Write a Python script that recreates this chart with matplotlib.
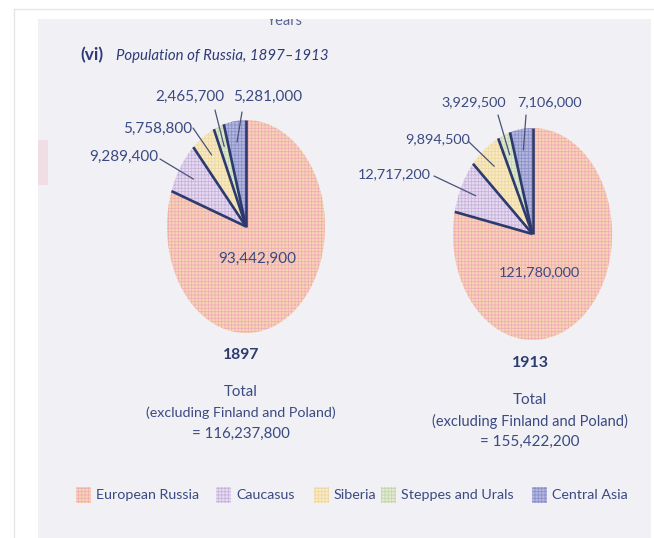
import matplotlib.pyplot as plt
from matplotlib.patches import Rectangle, ConnectionPatch
import numpy as np

regions = ['European Russia', 'Caucasus', 'Siberia', 'Steppes and Urals', 'Central Asia']
pop_1897 = [93442900, 9289400, 5758800, 2465700, 5281000]
pop_1913 = [121780000, 12717200, 9894500, 3929500, 7106000]
total_1897 = '116,237,800'
total_1913 = '155,422,200'

base_colors = ['#f8d6b2', '#e6dcef', '#f8ebc8', '#e3ebd3', '#b4b8df']
grid_colors = ['#efadb8', '#c8b2dc', '#efd7a0', '#c5d6ae', '#8b90c9']
navy = '#2c3a6e'
txt = '#3a4a82'

plt.rcParams['font.family'] = ['Lato', 'DejaVu Sans']
plt.rcParams['hatch.linewidth'] = 0.6

W, H = 654, 538
fig = plt.figure(figsize=(W / 100, H / 100), dpi=100)
fig.patch.set_facecolor('white')


def box(x0, y0, x1, y1):
    # pixel box (top-left origin) -> figure fraction
    return [x0 / W, 1 - y1 / H, (x1 - x0) / W, (y1 - y0) / H]


# page background
bg = fig.add_axes([0, 0, 1, 1], zorder=0)
bg.set_xlim(0, W)
bg.set_ylim(H, 0)
bg.axis('off')
bg.add_patch(Rectangle((38, 19), 613, H - 19, color='#f1f0f5', lw=0, zorder=0))
bg.add_patch(Rectangle((38, 140), 10, 45, color='#f1dde4', lw=0, zorder=1))
bg.text(285, 21, 'Years', fontsize=10.5, color='#5a6690', ha='center', va='center', zorder=1)
bg.add_patch(Rectangle((0, 0), W, 19, color='white', lw=0, zorder=2))
bg.plot([14, 14], [9, H], color='#e6e6e8', lw=1, zorder=3)
bg.plot([14, W], [9, 9], color='#e6e6e8', lw=1, zorder=3)


def draw_pie(rect, values):
    ax = fig.add_axes(rect, zorder=1)
    total = sum(values)
    # counter-clockwise from 12 o'clock, European Russia drawn last
    order = values[1:][::-1] + [values[0]]
    cols = base_colors[1:][::-1] + [base_colors[0]]
    gcols = grid_colors[1:][::-1] + [grid_colors[0]]
    wedges, _ = ax.pie(order, colors=cols, startangle=90, counterclock=True, radius=1)
    for w, gc in zip(wedges, gcols):
        w.set_hatch('+++++')
        w.set_edgecolor(gc)
        w.set_linewidth(0)
    ax.set_aspect('auto')
    ax.set_xlim(-1, 1)
    ax.set_ylim(-1, 1)
    ax.axis('off')
    cum = np.concatenate([[0], np.cumsum(order)]) / total
    for c in cum[:-1]:
        a = np.deg2rad(90 + 360 * c)
        ax.plot([0, np.cos(a)], [0, np.sin(a)], color=navy, lw=1.9,
                solid_capstyle='butt', zorder=5)
    # mid angles for the small slices, in original region order
    mids = {}
    for i, name_idx in enumerate([4, 3, 2, 1]):
        m = (cum[i] + cum[i + 1]) / 2
        a = np.deg2rad(90 + 360 * m)
        mids[name_idx] = (0.8 * np.cos(a), 0.8 * np.sin(a))
    return ax, mids


ax1, mids1 = draw_pie(box(167, 120, 325, 333), pop_1897)
ax2, mids2 = draw_pie(box(453, 128, 612, 340), pop_1913)

ov = fig.add_axes([0, 0, 1, 1], zorder=3)
ov.set_xlim(0, W)
ov.set_ylim(H, 0)
ov.axis('off')
ov.patch.set_alpha(0)


def label(ax, mids, idx, value, tx, ty, lx, ly, ha, size):
    ov.text(tx, ty, f'{value:,}', ha=ha, va='center', fontsize=size, color=txt)
    con = ConnectionPatch(xyA=(lx, ly), coordsA=ov.transData, xyB=mids[idx],
                          coordsB=ax.transData, color='#4a5278', lw=0.9)
    fig.add_artist(con)
    con.set_zorder(4)


# 1897 labels
label(ax1, mids1, 1, pop_1897[1], 158, 157, 160, 159, 'right', 11)
label(ax1, mids1, 2, pop_1897[2], 192, 129, 193, 128, 'right', 11)
label(ax1, mids1, 3, pop_1897[3], 224, 97, 215, 110, 'right', 11)
label(ax1, mids1, 4, pop_1897[4], 233, 97, 242, 112, 'left', 11)
ov.text(257, 259, f'{pop_1897[0]:,}', ha='center', va='center', fontsize=11, color=txt)

# 1913 labels
label(ax2, mids2, 1, pop_1913[1], 431, 174, 434, 176, 'right', 10.4)
label(ax2, mids2, 2, pop_1913[2], 470, 139, 468, 141, 'right', 10.4)
label(ax2, mids2, 3, pop_1913[3], 506, 102, 498, 115, 'right', 10.4)
label(ax2, mids2, 4, pop_1913[4], 517, 102, 526, 115, 'left', 10.4)
ov.text(539, 272, f'{pop_1913[0]:,}', ha='center', va='center', fontsize=10.4, color=txt)

# title
ov.text(80, 55, '(vi)', fontsize=12.5, fontweight='bold', color='#2e3b78', va='center')
ov.text(116, 56, 'Population of Russia, 1897\u20131913', fontsize=10.8, style='italic',
        color='#2e3b78', va='center')

# totals
for cx, ys, yr, tot, fs in [(241, [355, 392, 413, 434], '1897', total_1897, 10.3),
                            (530, [363, 400, 421, 442], '1913', total_1913, 10.5)]:
    ov.text(cx, ys[0], yr, ha='center', va='center', fontsize=fs + 1,
            fontweight='bold', color='#2e3b6e')
    ov.text(cx, ys[1], 'Total', ha='center', va='center', fontsize=fs + 0.5, color=txt)
    ov.text(cx, ys[2], '(excluding Finland and Poland)', ha='center', va='center',
            fontsize=fs, color=txt)
    ov.text(cx, ys[3], '= ' + tot, ha='center', va='center', fontsize=fs + 0.5, color=txt)

# legend
leg_x = [76, 216, 314, 381, 532]
for x, name, bc, gc in zip(leg_x, regions, base_colors, grid_colors):
    ov.add_patch(Rectangle((x, 487), 15, 16, facecolor=bc, edgecolor=gc, hatch='+++++', lw=0))
    ov.text(x + 20, 495, name, va='center', ha='left', fontsize=10.3, color=txt)

fig.savefig('out.png', dpi=100)
